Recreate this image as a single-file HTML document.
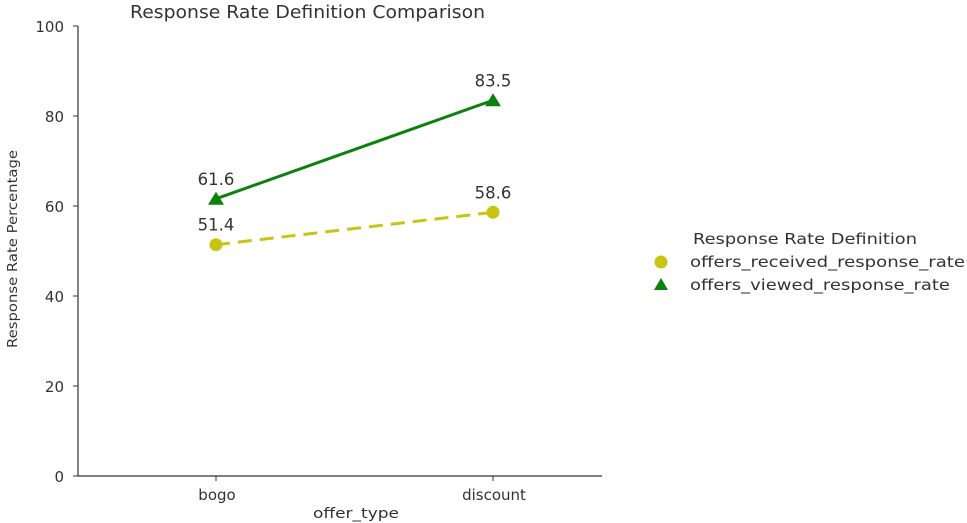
<!DOCTYPE html>
<html><head><meta charset="utf-8"><style>
body{margin:0;background:#fff;}
svg{display:block;font-family:"DejaVu Sans","Liberation Sans",sans-serif;}
</style></head><body>
<svg id="chart" width="967" height="523" viewBox="0 0 967 523">
<rect x="0" y="0" width="967" height="523" fill="#fff"/>
<text x="130" y="18" font-size="17.5" fill="#333" textLength="355" lengthAdjust="spacingAndGlyphs">Response Rate Definition Comparison</text>
<g id="axes"></g>
<g id="marks"></g>
<text x="313" y="518" font-size="14.5" fill="#333" textLength="86" lengthAdjust="spacingAndGlyphs">offer_type</text>
<text transform="translate(17,249) rotate(-90)" font-size="13" fill="#333" text-anchor="middle" textLength="198" lengthAdjust="spacingAndGlyphs">Response Rate Percentage</text>
<g>
<text x="693" y="244" font-size="15" fill="#333" textLength="224" lengthAdjust="spacingAndGlyphs">Response Rate Definition</text>
<circle cx="661" cy="262" r="6.5" fill="#c8c414"/>
<text x="690" y="267" font-size="15" fill="#333" textLength="275" lengthAdjust="spacingAndGlyphs">offers_received_response_rate</text>
<polygon points="661,278 668,290 654,290" fill="#0c820c"/>
<text x="690" y="290" font-size="15" fill="#333" textLength="260" lengthAdjust="spacingAndGlyphs">offers_viewed_response_rate</text>
</g>
</svg>
<script>
const categories=["bogo","discount"];
const receivedValues=[51.4,58.6];
const viewedValues=[61.6,83.5];
const yTicks=[0,20,40,60,80,100];
const NS="http://www.w3.org/2000/svg";
const X0=78,X1=602,Y0=476,Y1=26;
const xs=i=>216+i*(493-216);
const ys=v=>Y0-(v/100)*(Y0-Y1);
function mk(tag,attrs,parent){const e=document.createElementNS(NS,tag);for(const k in attrs)e.setAttribute(k,attrs[k]);parent.appendChild(e);return e;}
const ax=document.getElementById('axes'),mg=document.getElementById('marks');
let l=mk('line',{x1:X0,y1:Y1,x2:X0,y2:Y0,stroke:'#333','stroke-width':1.2},ax);


l=mk('line',{x1:X0,y1:Y0,x2:X1,y2:Y0,stroke:'#333','stroke-width':1.2},ax);


yTicks.forEach(t=>{
 const tk=mk('line',{x1:X0-5,y1:ys(t),x2:X0,y2:ys(t),stroke:'#333'},ax);
 
 
 const tx=mk('text',{x:X0-14,y:ys(t)+6,'font-size':15,fill:'#333','text-anchor':'end'},ax);
 tx.textContent=t;
 
 
});
categories.forEach((c,i)=>{
 const tk=mk('line',{x1:xs(i),y1:Y0,x2:xs(i),y2:Y0+5,stroke:'#333'},ax);
 
 
 const tx=mk('text',{x:xs(i)+1,y:Y0+24,'font-size':15,fill:'#333','text-anchor':'middle'},ax);
 tx.textContent=c;
 
 
});
function series(vals,color,dash,shape,name){
 const pts=vals.map((v,i)=>xs(i)+','+ys(v)).join(' ');
 const pl=mk('polyline',{points:pts,fill:'none',stroke:color,'stroke-width':3,'stroke-dasharray':dash},mg);
 
 
 vals.forEach((v,i)=>{
  const x=xs(i),y=ys(v);let m;
  if(shape==='circle')m=mk('circle',{cx:x,cy:y,r:6.5,fill:color},mg);
  else m=mk('polygon',{points:`${x},${y-7} ${x+8},${y+6} ${x-8},${y+6}`,fill:color},mg);
  
  
  const t=mk('text',{x:x,y:y-14,'font-size':16.5,fill:'#333','text-anchor':'middle'},mg);
  t.textContent=v.toFixed(1);
  
  
 });
}
series(receivedValues,'#c8c414','14,8','circle','received');
series(viewedValues,'#0c820c','none','triangle','viewed');
</script>
</body></html>
